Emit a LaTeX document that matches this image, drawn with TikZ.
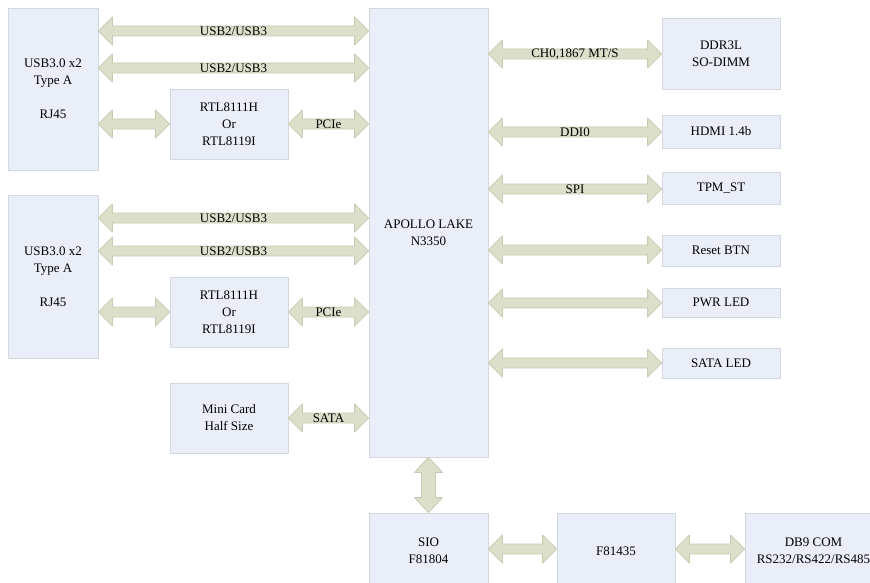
\documentclass[tikz,border=0pt]{standalone}
\usepackage{fontspec}
\setmainfont{Liberation Serif}
\usetikzlibrary{calc}
\definecolor{boxfill}{HTML}{E9EEF8}
\definecolor{boxline}{HTML}{D3D7DE}
\definecolor{linkfill}{HTML}{DCE0CB}
\definecolor{linkline}{HTML}{C7CBB2}

% two-headed block arrow between two nodes, at height #1
\newcommand{\hlink}[4]{%
  \draw[link] let \p1=(#2.east |- 0,#1), \p2=(#3.west |- 0,#1) in
    (\x1,\y1) -- ++(14pt,14pt) -- ++(0pt,-9pt) -- (\x2-14pt,\y1+5pt) -- ++(0pt,9pt) -- (\x2,\y1)
    -- ++(-14pt,-14pt) -- ++(0pt,9pt) -- (\x1+14pt,\y1-5pt) -- ++(0pt,-9pt) -- cycle
    ({0.5*\x1+0.5*\x2},\y1) node[lbl] {#4};}
\newcommand{\vlink}[2]{%
  \draw[link] let \p1=(#1.south), \p2=(#2.north) in
    (\x1,\y1) -- ++(14pt,-15pt) -- ++(-7pt,0pt) -- (\x1+7pt,\y2+15pt) -- ++(7pt,0pt) -- (\x1,\y2)
    -- ++(-14pt,15pt) -- ++(7pt,0pt) -- (\x1-7pt,\y1-15pt) -- ++(-7pt,0pt) -- cycle;}

\begin{document}
\begin{tikzpicture}[line cap=round,line join=round,x=1pt,y=-1pt,
  blk/.style={draw=boxline,fill=boxfill,line width=0.8pt,align=center,inner sep=0pt,
    font=\fontsize{13}{17}\selectfont},
  link/.style={draw=linkline,fill=linkfill,line width=0.8pt},
  lbl/.style={inner sep=0pt,font=\fontsize{13}{17}\selectfont}]
\useasboundingbox (0,0) rectangle (870,583);
% left side
\node[blk,minimum width=90pt,minimum height=162pt] (usbA) at (53,89) {USB3.0 x2\\Type A\\[17pt]RJ45};
\node[blk,minimum width=90pt,minimum height=163pt] (usbB) at (53,276.5) {USB3.0 x2\\Type A\\[17pt]RJ45};
\node[blk,minimum width=118pt,minimum height=70pt] (rtlA) at (229,124) {RTL8111H\\Or\\RTL8119I};
\node[blk,minimum width=118pt,minimum height=70pt] (rtlB) at (229,312) {RTL8111H\\Or\\RTL8119I};
\node[blk,minimum width=118pt,minimum height=70pt] (mini) at (229,418) {Mini Card\\Half Size};
% soc
\node[blk,minimum width=119pt,minimum height=449pt] (cpu) at (428.5,232.5) {APOLLO LAKE\\N3350};
% right side
\node[blk,minimum width=118pt,minimum height=71pt] (ddr) at (721,53.5) {DDR3L\\SO-DIMM};
\node[blk,minimum width=118pt,minimum height=33pt] (hdmi) at (721,131.5) {HDMI 1.4b};
\node[blk,minimum width=118pt,minimum height=32pt] (tpm) at (721,188) {TPM\_ST};
\node[blk,minimum width=118pt,minimum height=31pt] (rst) at (721,250.5) {Reset BTN};
\node[blk,minimum width=118pt,minimum height=29pt] (pwr) at (721,302.5) {PWR LED};
\node[blk,minimum width=118pt,minimum height=30pt] (sled) at (721,363) {SATA LED};
% bottom
\node[blk,minimum width=119pt,minimum height=76pt] (sio) at (428.5,551) {SIO\\F81804};
\node[blk,minimum width=118pt,minimum height=76pt] (fin) at (616,551) {F81435};
\node[blk,minimum width=137pt,minimum height=76pt] (db9) at (813.5,551) {DB9 COM\\RS232/RS422/RS485};

\hlink{31}{usbA}{cpu}{USB2/USB3}
\hlink{68}{usbA}{cpu}{USB2/USB3}
\hlink{124}{usbA}{rtlA}{}
\hlink{124}{rtlA}{cpu}{PCIe}
\hlink{218}{usbB}{cpu}{USB2/USB3}
\hlink{251}{usbB}{cpu}{USB2/USB3}
\hlink{312}{usbB}{rtlB}{}
\hlink{312}{rtlB}{cpu}{PCIe}
\hlink{418}{mini}{cpu}{SATA}

\hlink{54}{cpu}{ddr}{CH0,1867 MT/S}
\hlink{132}{cpu}{hdmi}{DDI0}
\hlink{189}{cpu}{tpm}{SPI}
\hlink{250}{cpu}{rst}{}
\hlink{303}{cpu}{pwr}{}
\hlink{363}{cpu}{sled}{}

\vlink{cpu}{sio}
\hlink{549}{sio}{fin}{}
\hlink{549}{fin}{db9}{}
\end{tikzpicture}
\end{document}
